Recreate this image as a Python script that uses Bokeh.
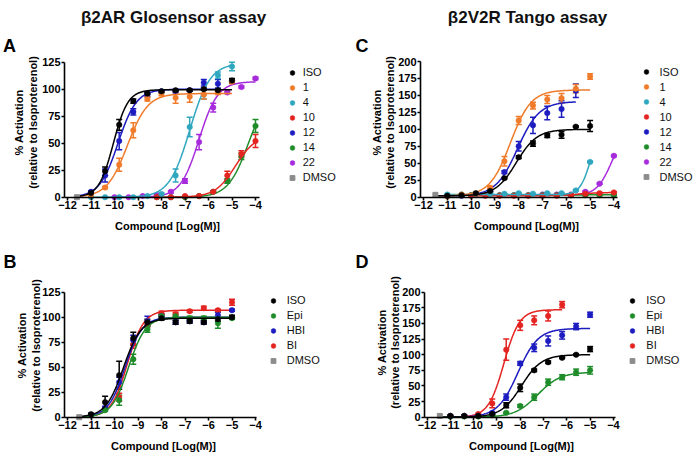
import numpy as np
from bokeh.plotting import figure
from bokeh.models import (Range1d, FixedTicker, Label, Legend, LegendItem,
                          Whisker, TeeHead, ColumnDataSource)
from bokeh.layouts import column, row
from bokeh.core.properties import value
from bokeh.embed import file_html
from bokeh.resources import INLINE

# ---------------------------------------------------------------- data
XTICKS = [-12, -11, -10, -9, -8, -7, -6, -5, -4]
YTICKS_GLO = [0, 25, 50, 75, 100, 125]
YTICKS_TANGO = [0, 25, 50, 75, 100, 125, 150, 175, 200]

# log10 molar concentrations
X_HI = [-11.0, -10.4, -9.8, -9.2, -8.6, -8.0, -7.4, -6.8, -6.2, -5.6, -5.0]
X_HI10 = [-11.0, -10.4, -9.8, -9.2, -8.6, -8.0, -7.4, -6.8, -6.2, -5.6]
X_HI9 = [-11.0, -10.4, -9.8, -9.2, -8.6, -8.0, -7.4, -6.8, -6.2]
X_LO = [-10.0, -9.4, -8.8, -8.2, -7.6, -7.0, -6.4, -5.8, -5.2, -4.6, -4.0]
X_LO8 = [-8.2, -7.6, -7.0, -6.4, -5.8, -5.2, -4.6, -4.0]

# Panel A: beta2AR Glosensor
A_ISO = [4, 24, 67, 89, 96, 98, 99, 99, 100, 99, 108]
A_ISO_ERR = [1, 4, 5, 2, 1, 1, 1, 1, 1, 1, 2]
A_1 = [2, 9, 30, 62, 91, 96, 92, 93, 95, 97, 107]
A_1_ERR = [1, 1, 6, 7, 2, 2, 5, 5, 4, 2, 2]
A_4 = [0, 0, 0, 0, 1, 3, 20, 65, 95, 113, 121]
A_4_ERR = [0, 0, 0, 0, 0, 1, 6, 9, 4, 3, 4]
A_10 = [0, 0, 1, 1, 5, 20, 40, 52]
A_10_ERR = [0, 0, 0, 0, 1, 4, 3, 6]
A_12 = [5, 20, 52, 79, 95, 98, 98, 99, 106, 105]
A_12_ERR = [1, 6, 8, 3, 2, 1, 1, 1, 3, 4]
A_14 = [0, 0, 0, 1, 5, 15, 38, 66]
A_14_ERR = [0, 0, 0, 0, 1, 2, 3, 6]
A_22 = [0, 0, 1, 2, 5, 15, 51, 83, 97, 102, 110]
A_22_ERR = [0, 0, 0, 1, 1, 2, 7, 4, 1, 1, 1]
A_DMSO = [-11.6, 0]
# fits: bottom, top, logEC50, hill ; spans: from, to
A_ISO_FIT = [0, 99.5, -10.05, 1.4]
A_1_FIT = [0, 96, -9.45, 1.0]
A_4_FIT = [0, 124, -6.8, 1.0]
A_10_FIT = [0, 58, -4.85, 1.0]
A_12_FIT = [0, 100, -9.85, 1.1]
A_14_FIT = [0, 100, -4.3, 1.0]
A_22_FIT = [0, 107, -6.4, 1.1]
A_SPAN_ISO = [-11.6, -5.0]
A_SPAN_1 = [-11.6, -5.0]
A_SPAN_4 = [-11.0, -5.0]
A_SPAN_10 = [-8.2, -4.0]
A_SPAN_12 = [-11.6, -5.6]
A_SPAN_14 = [-8.2, -4.0]
A_SPAN_22 = [-10.0, -4.0]

# Panel C: beta2V2R Tango
C_ISO = [2, 3, 6, 9, 28, 59, 79, 91, 92, 104, 105]
C_ISO_ERR = [1, 1, 1, 1, 1, 2, 4, 3, 5, 1, 8]
C_1 = [1, 4, 5, 14, 53, 113, 135, 144, 146, 160, 178]
C_1_ERR = [1, 1, 1, 2, 7, 6, 5, 6, 7, 6, 4]
C_4 = [4, 4, 5, 5, 5, 6, 5, 6, 6, 10, 52]
C_4_ERR = [0, 0, 0, 0, 0, 0, 0, 0, 0, 1, 1]
C_10 = [2, 2, 2, 2, 2, 2, 2, 3, 5, 6, 7]
C_10_ERR = [0, 0, 0, 0, 0, 0, 0, 0, 0, 1, 1]
C_12 = [2, 2, 4, 8, 37, 75, 106, 124, 130, 157]
C_12_ERR = [1, 1, 1, 1, 2, 7, 12, 10, 12, 10]
C_14 = [3, 3, 3, 3, 3, 3, 3, 3, 3, 3, 3]
C_14_ERR = [0, 0, 0, 0, 0, 0, 0, 0, 0, 0, 0]
C_22 = [3, 3, 3, 3, 3, 4, 4, 4, 8, 20, 61]
C_22_ERR = [0, 0, 0, 0, 0, 0, 0, 0, 1, 1, 1]
C_DMSO = [-11.5, 3.5]
C_ISO_FIT = [2, 100, -8.1, 1.0]
C_1_FIT = [2, 158, -8.35, 1.0]
C_4_FIT = [4, 100, -5.0, 2.0]
C_10_FIT = [2, 7, -5.5, 1.0]
C_12_FIT = [2, 141, -8.05, 0.95]
C_14_FIT = [3, 3.5, -6.0, 1.0]
C_22_FIT = [3, 100, -4.1, 1.4]
C_SPAN_ISO = [-11.5, -5.0]
C_SPAN_1 = [-11.5, -5.0]
C_SPAN_4 = [-11.0, -5.0]
C_SPAN_10 = [-10.0, -4.0]
C_SPAN_12 = [-11.5, -5.6]
C_SPAN_14 = [-10.0, -4.0]
C_SPAN_22 = [-10.0, -4.0]

# Panel B: beta2AR Glosensor, reference agonists
B_ISO = [3, 15, 42, 79, 95, 99, 95, 96, 95, 98, 100]
B_ISO_ERR = [1, 6, 14, 6, 3, 2, 2, 2, 2, 2, 2]
B_EPI = [2, 7, 17, 58, 88, 101, 101, 99, 99, 94, 99]
B_EPI_ERR = [1, 1, 5, 5, 3, 2, 2, 2, 2, 5, 1]
B_HBI = [2, 9, 35, 77, 96, 101, 95, 96, 95, 102, 107]
B_HBI_ERR = [1, 2, 5, 5, 5, 2, 2, 1, 1, 3, 1]
B_BI = [2, 8, 20, 73, 93, 104, 103, 106, 109, 107, 115]
B_BI_ERR = [1, 1, 4, 4, 3, 2, 2, 1, 2, 1, 3]
B_DMSO = [-11.5, 0]
B_ISO_FIT = [0, 99, -9.62, 1.15]
B_EPI_FIT = [0, 100, -9.4, 1.2]
B_HBI_FIT = [0, 100, -9.55, 1.2]
B_BI_FIT = [0, 107, -9.45, 1.25]
B_SPAN = [-11.5, -5.0]

# Panel D: beta2V2R Tango, reference agonists
D_ISO = [2, 2, 2, 5, 19, 47, 75, 88, 95, 100, 109]
D_ISO_ERR = [1, 1, 1, 1, 4, 6, 2, 2, 1, 1, 4]
D_EPI = [1, 1, 1, 3, 7, 18, 32, 56, 64, 72, 75]
D_EPI_ERR = [1, 1, 1, 1, 1, 2, 5, 5, 4, 5, 6]
D_HBI = [2, 2, 2, 7, 32, 86, 111, 122, 131, 145, 164]
D_HBI_ERR = [1, 1, 1, 1, 5, 3, 6, 8, 6, 5, 4]
D_BI = [2, 2, 5, 22, 108, 147, 155, 162, 180]
D_BI_ERR = [1, 1, 1, 7, 17, 8, 7, 8, 5]
D_DMSO = [-11.45, 2]
D_ISO_FIT = [0, 100, -7.95, 1.0]
D_EPI_FIT = [0, 72, -7.25, 0.9]
D_HBI_FIT = [0, 142, -8.1, 1.0]
D_BI_FIT = [0, 172, -8.7, 1.3]
D_SPAN = [-11.45, -5.0]
D_SPAN_BI = [-11.45, -6.2]

# ---------------------------------------------------------------- style
FONT = "Liberation Sans"
COL_ISO = "#000000"
COL_1 = "#f07b2a"
COL_4 = "#2fa7bf"
COL_10 = "#e32421"
COL_12 = "#1c1cc0"
COL_14 = "#1f8c2a"
COL_22 = "#a72bdc"
COL_DMSO = "#8c8c8c"

# page-pixel geometry
# box: figure left, top, width, height ; yaxis_px: page x of the y axis line
# xcal: page x of log -12, px per log unit ; ycal: page y of value 0, px per unit
GEO = {
    "A": dict(box=(0, 0, 347, 232), yaxis_px=64, xcal=(67, 23.5),
              ycal=(196.7, 1.08), xend=-3.82, ytop=125),
    "C": dict(box=(347, 0, 350, 232), yaxis_px=420, xcal=(423, 23.8),
              ycal=(196.7, 0.6785), xend=-3.85, ytop=200),
    "B": dict(box=(0, 232, 347, 222), yaxis_px=64, xcal=(67, 23.5),
              ycal=(416.7, 1.0), xend=-3.95, ytop=125),
    "D": dict(box=(347, 232, 350, 222), yaxis_px=424, xcal=(426.5, 23.3),
              ycal=(416.7, 0.625), xend=-3.93, ytop=200),
}
TEXTS = {
    "A": dict(title=("\u03b22AR Glosensor assay", 173, 16.5), letter=("A", 2.5, 45),
              ylab=(18, 32, 122), xlab=(167, 225)),
    "C": dict(title=("\u03b22V2R Tango assay", 527, 16.5), letter=("C", 355, 45),
              ylab=(376, 389.5, 122), xlab=(526, 225)),
    "B": dict(title=None, letter=("B", 3, 261), ylab=(21, 35, 345), xlab=(163, 445)),
    "D": dict(title=None, letter=("D", 355, 261), ylab=(381, 394, 342), xlab=(521, 445)),
}
# legend: marker x, text x, first row y (page px)
LEG = {"A": (291.7, 302.7, 72), "C": (645.5, 660, 71.5),
       "B": (272.7, 286.7, 300), "D": (632.3, 646, 300)}
ROW = 15
GW = 12


def hill(fit, x):
    b, t, ec, h = fit
    return b + (t - b) / (1 + 10 ** ((ec - x) * h))


def build(key, series, dmso, yticks):
    g = GEO[key]
    bl, bt, W, H = g["box"]
    xc0, xcs = g["xcal"]
    yc0, ycs = g["ycal"]

    def dx(px):
        return -12 + (px - xc0) / xcs

    def dy(py):
        return (yc0 - py) / ycs

    p = figure(width=W, height=H, title=None,
               x_range=Range1d(dx(bl), dx(bl + W)),
               y_range=Range1d(dy(bt + H), dy(bt)),
               output_backend="svg", toolbar_location=None, min_border=0)
    p.outline_line_color = None
    p.xgrid.visible = False
    p.ygrid.visible = False
    xstart = dx(g["yaxis_px"])
    p.xaxis.ticker = FixedTicker(ticks=XTICKS)
    p.yaxis.ticker = FixedTicker(ticks=yticks)
    p.xaxis.fixed_location = 0
    p.xaxis.bounds = (xstart, g["xend"])
    p.yaxis.fixed_location = xstart
    p.yaxis.bounds = (0, g["ytop"])
    for ax in (p.xaxis, p.yaxis):
        ax.axis_line_width = 1.6
        ax.axis_line_color = "black"
        ax.major_tick_line_width = 1.6
        ax.major_tick_line_color = "black"
        ax.major_tick_in = 0
        ax.major_tick_out = 3
        ax.minor_tick_line_color = None
        ax.major_label_standoff = 1
        ax.major_label_text_font = FONT
        ax.major_label_text_font_style = "bold"
        ax.major_label_text_font_size = "11px"
        ax.major_label_text_color = "black"

    scat = {}
    for name, color, xs, ys, errs, fit, span in reversed(series):
        cx = np.linspace(span[0], span[1], 200)
        p.line(cx, hill(fit, cx), line_color=color, line_width=1.5)
        lo = [y - e for y, e in zip(ys, errs)]
        hi = [y + e for y, e in zip(ys, errs)]
        src = ColumnDataSource(dict(x=xs, lo=lo, hi=hi))
        p.add_layout(Whisker(base="x", lower="lo", upper="hi", source=src,
                             line_color=color, line_width=1.5,
                             lower_head=TeeHead(size=6, line_color=color, line_width=1.5),
                             upper_head=TeeHead(size=6, line_color=color, line_width=1.5)))
        scat[name] = p.scatter(xs, ys, marker="circle", size=5.5,
                               fill_color=color, line_color=color, line_width=0.5)
    scat["DMSO"] = p.scatter([dmso[0]], [dmso[1]], marker="square", size=5,
                             fill_color=COL_DMSO, line_color=COL_DMSO)

    names = [s[0] for s in series] + ["DMSO"]
    items = [LegendItem(label=value(n), renderers=[scat[n]]) for n in names]
    mx, tx, ry = LEG[key]
    n = len(items)
    vx = mx - GW / 2 - bl
    vy = (bt + H) - (ry - ROW / 2 + n * ROW)
    leg = Legend(items=items, location=(vx, vy), orientation="vertical",
                 padding=0, margin=0, spacing=0,
                 glyph_width=GW, glyph_height=ROW, label_height=ROW,
                 label_standoff=int(round(tx - (mx + GW / 2))),
                 label_text_font=FONT, label_text_font_size="11px",
                 label_text_color="#111111",
                 border_line_color=None, background_fill_alpha=0)
    p.add_layout(leg)

    t = TEXTS[key]
    if t["title"]:
        txt, px, py = t["title"]
        p.add_layout(Label(x=dx(px), y=dy(py), text=txt, text_font=FONT,
                           text_font_size="17px", text_font_style="bold",
                           text_align="center", text_baseline="alphabetic",
                           text_color="#111111"))
    txt, px, py = t["letter"]
    p.add_layout(Label(x=dx(px), y=dy(py), text=txt, text_font=FONT,
                       text_font_size="18px", text_font_style="bold",
                       text_align="left", text_baseline="alphabetic",
                       text_color="black"))
    l1x, l2x, lcy = t["ylab"]
    for txt, px in (("% Activation", l1x), ("(relative to Isoproterenol)", l2x)):
        p.add_layout(Label(x=dx(px), y=dy(lcy), text=txt, angle=np.pi / 2,
                           text_font=FONT, text_font_size="11px",
                           text_font_style="bold", text_align="center",
                           text_baseline="middle", text_color="black"))
    px, py = t["xlab"]
    p.add_layout(Label(x=dx(px), y=dy(py), text="Compound [Log(M)]",
                       text_font=FONT, text_font_size="11px",
                       text_font_style="bold", text_align="center",
                       text_baseline="alphabetic", text_color="black"))
    return p


SER_A = [
    ("ISO", COL_ISO, X_HI, A_ISO, A_ISO_ERR, A_ISO_FIT, A_SPAN_ISO),
    ("1", COL_1, X_HI, A_1, A_1_ERR, A_1_FIT, A_SPAN_1),
    ("4", COL_4, X_HI, A_4, A_4_ERR, A_4_FIT, A_SPAN_4),
    ("10", COL_10, X_LO8, A_10, A_10_ERR, A_10_FIT, A_SPAN_10),
    ("12", COL_12, X_HI10, A_12, A_12_ERR, A_12_FIT, A_SPAN_12),
    ("14", COL_14, X_LO8, A_14, A_14_ERR, A_14_FIT, A_SPAN_14),
    ("22", COL_22, X_LO, A_22, A_22_ERR, A_22_FIT, A_SPAN_22),
]
SER_C = [
    ("ISO", COL_ISO, X_HI, C_ISO, C_ISO_ERR, C_ISO_FIT, C_SPAN_ISO),
    ("1", COL_1, X_HI, C_1, C_1_ERR, C_1_FIT, C_SPAN_1),
    ("4", COL_4, X_HI, C_4, C_4_ERR, C_4_FIT, C_SPAN_4),
    ("10", COL_10, X_LO, C_10, C_10_ERR, C_10_FIT, C_SPAN_10),
    ("12", COL_12, X_HI10, C_12, C_12_ERR, C_12_FIT, C_SPAN_12),
    ("14", COL_14, X_LO, C_14, C_14_ERR, C_14_FIT, C_SPAN_14),
    ("22", COL_22, X_LO, C_22, C_22_ERR, C_22_FIT, C_SPAN_22),
]
SER_B = [
    ("ISO", COL_ISO, X_HI, B_ISO, B_ISO_ERR, B_ISO_FIT, B_SPAN),
    ("Epi", COL_14, X_HI, B_EPI, B_EPI_ERR, B_EPI_FIT, B_SPAN),
    ("HBI", COL_12, X_HI, B_HBI, B_HBI_ERR, B_HBI_FIT, B_SPAN),
    ("BI", COL_10, X_HI, B_BI, B_BI_ERR, B_BI_FIT, B_SPAN),
]
SER_D = [
    ("ISO", COL_ISO, X_HI, D_ISO, D_ISO_ERR, D_ISO_FIT, D_SPAN),
    ("Epi", COL_14, X_HI, D_EPI, D_EPI_ERR, D_EPI_FIT, D_SPAN),
    ("HBI", COL_12, X_HI, D_HBI, D_HBI_ERR, D_HBI_FIT, D_SPAN),
    ("BI", COL_10, X_HI9, D_BI, D_BI_ERR, D_BI_FIT, D_SPAN_BI),
]

pA = build("A", SER_A, A_DMSO, YTICKS_GLO)
pC = build("C", SER_C, C_DMSO, YTICKS_TANGO)
pB = build("B", SER_B, B_DMSO, YTICKS_GLO)
pD = build("D", SER_D, D_DMSO, YTICKS_TANGO)

layout = column(row(pA, pC, spacing=0), row(pB, pD, spacing=0), spacing=0)
open("out.html", "w", encoding="utf-8").write(file_html(layout, INLINE))
